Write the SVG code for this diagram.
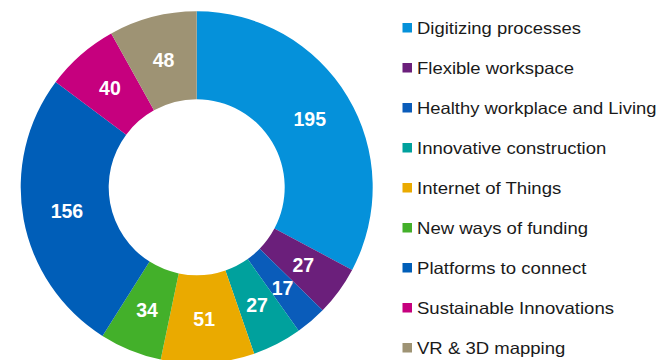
<svg xmlns="http://www.w3.org/2000/svg" width="662" height="360" viewBox="0 0 662 360">
<style>
.val{font-family:"Liberation Sans",Arial,sans-serif;font-weight:bold;font-size:19.5px;fill:#ffffff;text-anchor:middle}
.leg{font-family:"Liberation Sans",Arial,sans-serif;font-size:16.5px;fill:#1a1a1a}
</style>
<rect width="662" height="360" fill="#ffffff"/>
<g id="donut" transform="translate(196.7,187.3)">
<g id="slice-digitizing"><path d="M0,-176 A176,176 0 0 1 155.43,82.58 L77.71,41.29 A88,88 0 0 0 0,-88 Z" fill="#0591DA"/><text class="val" x="113.1" y="-61">195</text></g>
<g id="slice-flexible"><path d="M155.43,82.58 A176,176 0 0 1 125.93,122.95 L62.96,61.48 A88,88 0 0 0 77.71,41.29 Z" fill="#6B1F7B"/><text class="val" x="106.6" y="84.9">27</text></g>
<g id="slice-healthy"><path d="M125.93,122.95 A176,176 0 0 1 101.96,143.46 L50.98,71.73 A88,88 0 0 0 62.96,61.48 Z" fill="#0A5CBA"/><text class="val" x="85.8" y="107.3">17</text></g>
<g id="slice-innovative"><path d="M101.96,143.46 A176,176 0 0 1 57.48,166.36 L28.74,83.18 A88,88 0 0 0 50.98,71.73 Z" fill="#00A19D"/><text class="val" x="60.4" y="124.4">27</text></g>
<g id="slice-iot"><path d="M57.48,166.36 A176,176 0 0 1 -35.99,172.29 L-18.00,86.14 A88,88 0 0 0 28.74,83.18 Z" fill="#EAAA00"/><text class="val" x="7.5" y="139">51</text></g>
<g id="slice-funding"><path d="M-35.99,172.29 A176,176 0 0 1 -94.23,148.65 L-47.12,74.32 A88,88 0 0 0 -18.00,86.14 Z" fill="#43B02A"/><text class="val" x="-49.6" y="129.3">34</text></g>
<g id="slice-platforms"><path d="M-94.23,148.65 A176,176 0 0 1 -141.01,-105.32 L-70.51,-52.66 A88,88 0 0 0 -47.12,74.32 Z" fill="#005EB8"/><text class="val" x="-129.8" y="31.2">156</text></g>
<g id="slice-sustainable"><path d="M-141.01,-105.32 A176,176 0 0 1 -85.45,-153.88 L-42.72,-76.94 A88,88 0 0 0 -70.51,-52.66 Z" fill="#C6007E"/><text class="val" x="-86.8" y="-92">40</text></g>
<g id="slice-vr"><path d="M-85.45,-153.88 A176,176 0 0 1 0,-176 L0,-88 A88,88 0 0 0 -42.72,-76.94 Z" fill="#9E9374"/><text class="val" x="-33.1" y="-120.6">48</text></g>
</g>
<g id="legend">
<g id="leg-digitizing"><rect x="402.5" y="23" width="9.5" height="9.5" fill="#0591DA"/><text class="leg" transform="translate(417,34) scale(1.12,1)" textLength="146.4" lengthAdjust="spacingAndGlyphs">Digitizing processes</text></g>
<g id="leg-flexible"><rect x="402.5" y="63" width="9.5" height="9.5" fill="#6B1F7B"/><text class="leg" transform="translate(417,74) scale(1.12,1)" textLength="140.2" lengthAdjust="spacingAndGlyphs">Flexible workspace</text></g>
<g id="leg-healthy"><rect x="402.5" y="103" width="9.5" height="9.5" fill="#0A5CBA"/><text class="leg" transform="translate(417,114) scale(1.12,1)" textLength="213.8" lengthAdjust="spacingAndGlyphs">Healthy workplace and Living</text></g>
<g id="leg-innovative"><rect x="402.5" y="143" width="9.5" height="9.5" fill="#00A19D"/><text class="leg" transform="translate(417,154) scale(1.12,1)" textLength="169" lengthAdjust="spacingAndGlyphs">Innovative construction</text></g>
<g id="leg-iot"><rect x="402.5" y="183" width="9.5" height="9.5" fill="#EAAA00"/><text class="leg" transform="translate(417,194) scale(1.12,1)" textLength="128.8" lengthAdjust="spacingAndGlyphs">Internet of Things</text></g>
<g id="leg-funding"><rect x="402.5" y="223" width="9.5" height="9.5" fill="#43B02A"/><text class="leg" transform="translate(417,234) scale(1.12,1)" textLength="152.7" lengthAdjust="spacingAndGlyphs">New ways of funding</text></g>
<g id="leg-platforms"><rect x="402.5" y="263" width="9.5" height="9.5" fill="#005EB8"/><text class="leg" transform="translate(417,274) scale(1.12,1)" textLength="151.2" lengthAdjust="spacingAndGlyphs">Platforms to connect</text></g>
<g id="leg-sustainable"><rect x="402.5" y="303" width="9.5" height="9.5" fill="#C6007E"/><text class="leg" transform="translate(417,314) scale(1.12,1)" textLength="175.9" lengthAdjust="spacingAndGlyphs">Sustainable Innovations</text></g>
<g id="leg-vr"><rect x="402.5" y="343" width="9.5" height="9.5" fill="#9E9374"/><text class="leg" transform="translate(417,354) scale(1.12,1)" textLength="132.4" lengthAdjust="spacingAndGlyphs">VR &amp; 3D mapping</text></g>
</g>
</svg>
